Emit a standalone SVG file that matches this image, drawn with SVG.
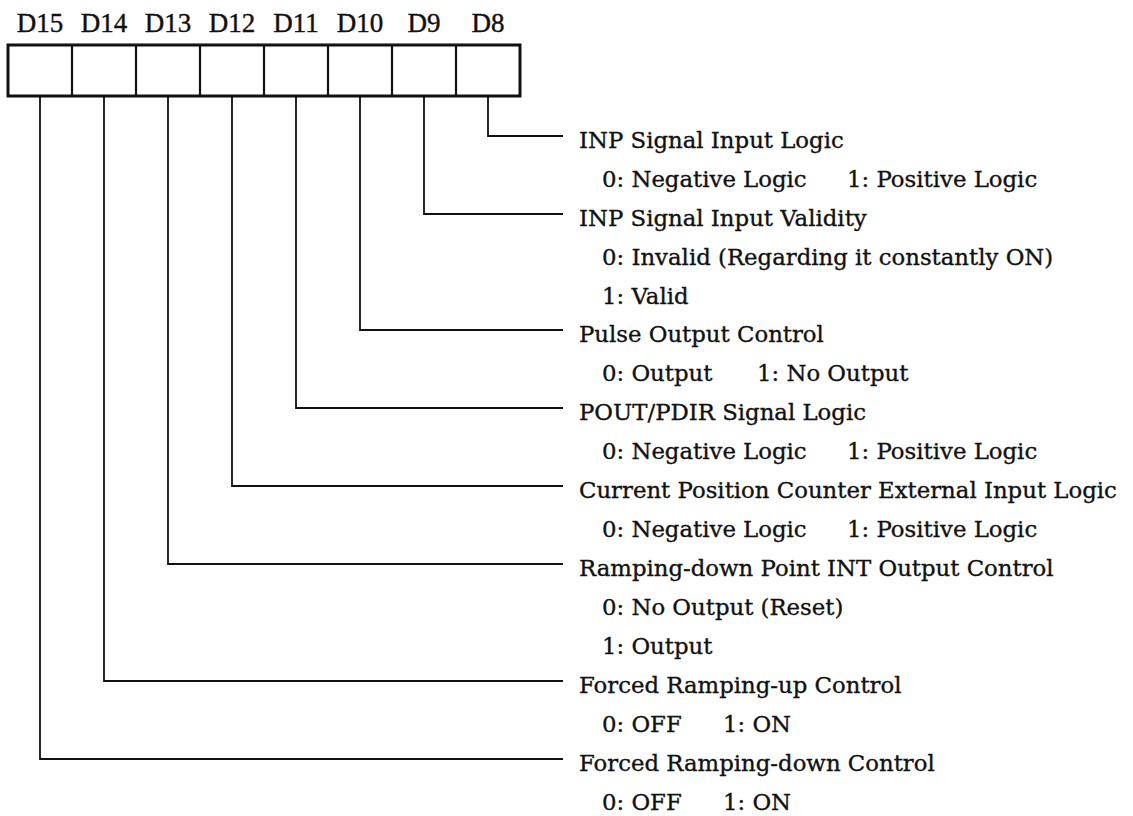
<svg xmlns="http://www.w3.org/2000/svg" width="1133" height="816" viewBox="0 0 1133 816">
<style>
.lbl{font-family:"Liberation Serif",serif;font-size:27px;fill:#111;stroke:#111;stroke-width:0.4;text-anchor:middle}
.t{font-family:"DejaVu Serif","Liberation Serif",serif;font-size:22.8px;fill:#111;stroke:#111;stroke-width:0.35}
.cell{fill:none;stroke:#111;stroke-width:2.2}
.outer{fill:none;stroke:#111;stroke-width:3}
.ln{fill:none;stroke:#111;stroke-width:1.8}
</style>
<rect width="1133" height="816" fill="#fff"/>
<g id="register">
<rect class="outer" x="8" y="45" width="512" height="51"/>
<path class="cell" d="M72 45V96M136 45V96M200 45V96M264 45V96M328 45V96M392 45V96M456 45V96"/>
<text class="lbl" x="40" y="32">D15</text>
<text class="lbl" x="104" y="32">D14</text>
<text class="lbl" x="168" y="32">D13</text>
<text class="lbl" x="232" y="32">D12</text>
<text class="lbl" x="296" y="32">D11</text>
<text class="lbl" x="360" y="32">D10</text>
<text class="lbl" x="424" y="32">D9</text>
<text class="lbl" x="488" y="32">D8</text>
</g>
<g id="connectors">
<path class="ln" d="M488 96V136H563"/>
<path class="ln" d="M424 96V214H563"/>
<path class="ln" d="M360 96V330H563"/>
<path class="ln" d="M296 96V408H563"/>
<path class="ln" d="M232 96V486H563"/>
<path class="ln" d="M168 96V564H563"/>
<path class="ln" d="M104 96V681H563"/>
<path class="ln" d="M40 96V759H563"/>
</g>
<g id="d8">
<text class="t" x="579" y="148">INP Signal Input Logic</text>
<text class="t" y="187"><tspan x="602">0: Negative Logic</tspan><tspan x="847">1: Positive Logic</tspan></text>
</g>
<g id="d9">
<text class="t" x="579" y="226">INP Signal Input Validity</text>
<text class="t" x="602" y="265">0: Invalid (Regarding it constantly ON)</text>
<text class="t" x="602" y="304">1: Valid</text>
</g>
<g id="d10">
<text class="t" x="579" y="342">Pulse Output Control</text>
<text class="t" y="381"><tspan x="602">0: Output</tspan><tspan x="757">1: No Output</tspan></text>
</g>
<g id="d11">
<text class="t" x="579" y="420">POUT/PDIR Signal Logic</text>
<text class="t" y="459"><tspan x="602">0: Negative Logic</tspan><tspan x="847">1: Positive Logic</tspan></text>
</g>
<g id="d12">
<text class="t" x="579" y="498">Current Position Counter External Input Logic</text>
<text class="t" y="537"><tspan x="602">0: Negative Logic</tspan><tspan x="847">1: Positive Logic</tspan></text>
</g>
<g id="d13">
<text class="t" x="579" y="576">Ramping-down Point INT Output Control</text>
<text class="t" x="602" y="615">0: No Output (Reset)</text>
<text class="t" x="602" y="654">1: Output</text>
</g>
<g id="d14">
<text class="t" x="579" y="693">Forced Ramping-up Control</text>
<text class="t" y="732"><tspan x="602">0: OFF</tspan><tspan x="723">1: ON</tspan></text>
</g>
<g id="d15">
<text class="t" x="579" y="771">Forced Ramping-down Control</text>
<text class="t" y="810"><tspan x="602">0: OFF</tspan><tspan x="723">1: ON</tspan></text>
</g>
</svg>
